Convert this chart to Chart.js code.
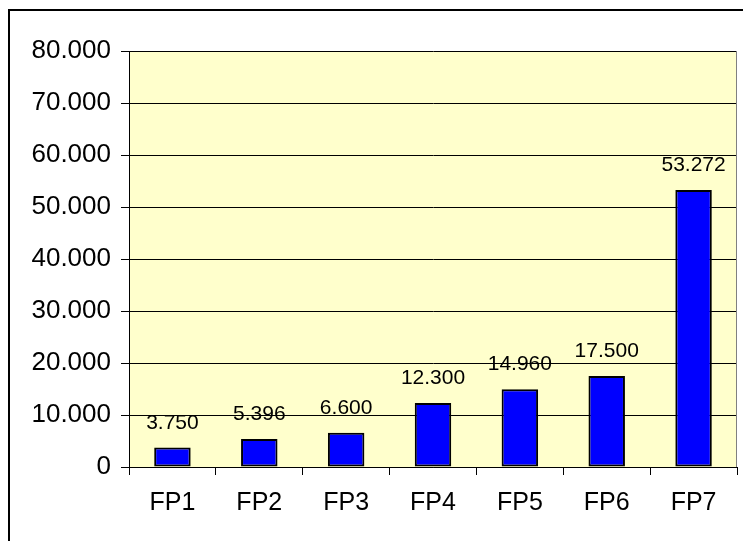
<!DOCTYPE html>
<html lang="de">
<head>
    <meta charset="UTF-8">
    <title>FP Balkendiagramm</title>
    <script src="https://cdn.jsdelivr.net/npm/chart.js"></script>
    <style>
        html, body { margin: 0; padding: 0; background: #fff; overflow: hidden; }
        #wrap { position: relative; width: 743px; height: 541px; }
        #frame {
            position: absolute; left: 8px; top: 9px; width: 760px; height: 560px;
            border-left: 2px solid #000; border-top: 2px solid #000; box-sizing: border-box;
        }
        canvas { position: absolute; left: 0; top: 0; }
    </style>
</head>
<body>
<div id="wrap">
    <div id="frame"></div>
    <canvas id="myChart" width="743" height="541"></canvas>
</div>
<script>
    // data
    const categories = ['FP1', 'FP2', 'FP3', 'FP4', 'FP5', 'FP6', 'FP7'];
    const values = [3750, 5396, 6600, 12300, 14960, 17500, 53272];
    const yTicks = [0, 10000, 20000, 30000, 40000, 50000, 60000, 70000, 80000];

    // German style thousands separator: 53272 -> 53.272
    function fmt(v) {
        return String(Math.round(v)).replace(/\B(?=(\d{3})+(?!\d))/g, '.');
    }

    const plotBg = {
        id: 'plotBg',
        beforeDraw(chart) {
            const a = chart.chartArea, c = chart.ctx;
            c.save();
            c.fillStyle = '#FFFFCC';
            c.fillRect(a.left, a.top, a.right - a.left, a.bottom - a.top);
            c.restore();
        },
        afterDraw(chart) {
            const a = chart.chartArea, c = chart.ctx;
            c.save();
            c.strokeStyle = '#808080';
            c.lineWidth = 1;
            c.beginPath();
            c.moveTo(a.right - 0.5, a.top);
            c.lineTo(a.right - 0.5, a.bottom);
            c.stroke();
            c.restore();
        }
    };

    const valueLabels = {
        id: 'valueLabels',
        afterDatasetsDraw(chart) {
            const c = chart.ctx;
            const meta = chart.getDatasetMeta(0);
            c.save();
            c.font = '21px "Liberation Sans", Arial, sans-serif';
            c.fillStyle = '#000';
            c.textAlign = 'center';
            c.textBaseline = 'alphabetic';
            meta.data.forEach((bar, i) => {
                c.fillText(fmt(values[i]), bar.x, bar.y - 19);
            });
            c.restore();
        }
    };

    const ctx = document.getElementById('myChart').getContext('2d');
    new Chart(ctx, {
        type: 'bar',
        data: {
            labels: categories,
            datasets: [{
                data: values,
                backgroundColor: '#0000FF',
                borderColor: '#000000',
                borderWidth: 2,
                borderSkipped: false,
                barPercentage: 0.84,
                categoryPercentage: 0.5
            }]
        },
        options: {
            responsive: false,
            animation: false,
            layout: { padding: { top: 51, right: 6, left: 0, bottom: 0 } },
            plugins: {
                legend: { display: false },
                tooltip: { enabled: false }
            },
            scales: {
                x: {
                    afterFit(scale) { scale.height = 74; },
                    grid: {
                        drawOnChartArea: false,
                        drawTicks: true,
                        tickLength: 8,
                        color: '#000',
                        offset: true
                    },
                    border: { color: '#000', width: 1 },
                    ticks: {
                        color: '#000',
                        padding: 13,
                        font: { family: '"Liberation Sans", Arial, sans-serif', size: 25 }
                    }
                },
                y: {
                    min: 0,
                    max: 80000,
                    afterFit(scale) { scale.width = 129; },
                    afterBuildTicks(scale) { scale.ticks = yTicks.map(v => ({ value: v })); },
                    grid: {
                        color: '#000',
                        tickLength: 8,
                        lineWidth: 1
                    },
                    border: { color: '#000', width: 1 },
                    ticks: {
                        color: '#000',
                        padding: 10,
                        font: { family: '"Liberation Sans", Arial, sans-serif', size: 26 },
                        callback: v => fmt(v)
                    }
                }
            }
        },
        plugins: [plotBg, valueLabels]
    });
</script>
</body>
</html>
